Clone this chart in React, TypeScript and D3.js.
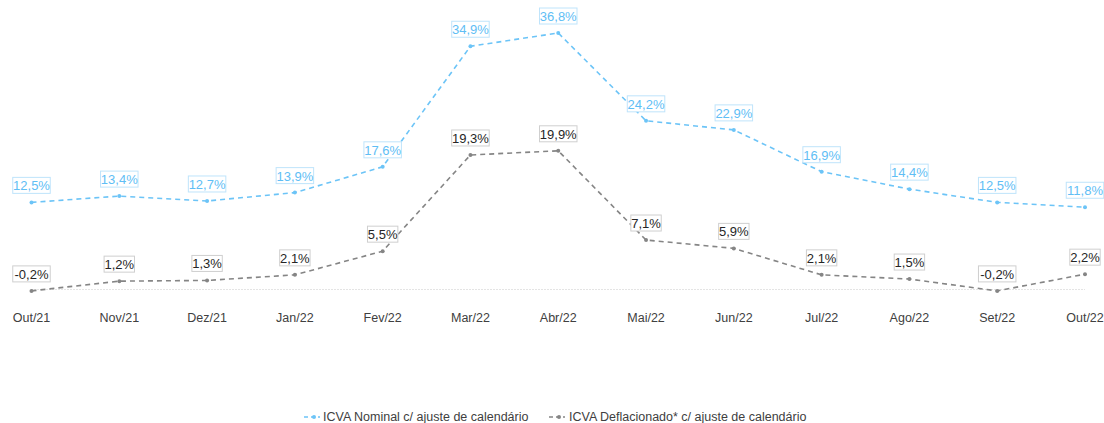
import React from "react";
import * as d3 from "d3";

const categories = ["Out/21", "Nov/21", "Dez/21", "Jan/22", "Fev/22", "Mar/22", "Abr/22", "Mai/22", "Jun/22", "Jul/22", "Ago/22", "Set/22", "Out/22"];
const nominal = [12.5, 13.4, 12.7, 13.9, 17.6, 34.9, 36.8, 24.2, 22.9, 16.9, 14.4, 12.5, 11.8];
const deflated = [-0.2, 1.2, 1.3, 2.1, 5.5, 19.3, 19.9, 7.1, 5.9, 2.1, 1.5, -0.2, 2.2];
const seriesNames = ["ICVA Nominal c/ ajuste de calendário", "ICVA Deflacionado* c/ ajuste de calendário"];

const W = 1104;
const H = 423;
const BLUE = "#6cc4f7";
const BLUE_TEXT = "#5fbef5";
const BLUE_BORDER = "#bfe4fb";
const GRAY = "#858585";
const FONT = "'Liberation Sans', Arial, sans-serif";

const fmt = (v: number) => v.toFixed(1).replace(".", ",") + "%";

export default function App() {
  const x = d3.scalePoint<string>().domain(categories).range([31.5, 1085]);
  const y = d3.scaleLinear().domain([0, 40]).range([289.5, 10.7]);
  const line = d3
    .line<number>()
    .x((_, i) => x(categories[i]) as number)
    .y((d) => y(d));

  const series = [
    { name: seriesNames[0], values: nominal, color: BLUE, text: BLUE_TEXT, border: BLUE_BORDER },
    { name: seriesNames[1], values: deflated, color: GRAY, text: "#262626", border: "#cfcfcf" },
  ];

  const labelW = (s: string) => s.length * 7.1 + 2;

  return (
    <svg width={W} height={H} style={{ position: "absolute", left: 0, top: 0, fontFamily: FONT }}>
      <rect width={W} height={H} fill="#ffffff" />
      <line x1={x(categories[0])} x2={x(categories[categories.length - 1])} y1={y(0)} y2={y(0)} stroke="#c8c8c8" strokeWidth={1} strokeDasharray="1,2" />
      {series.map((s, si) => (
        <g key={si}>
          <path d={line(s.values) || ""} fill="none" stroke={s.color} strokeWidth={1.6} strokeDasharray="5,4" />
          {s.values.map((v, i) => (
            <circle key={i} cx={x(categories[i])} cy={y(v)} r={2} fill={s.color} />
          ))}
          {s.values.map((v, i) => {
            const t = fmt(v);
            const w = labelW(t);
            const cx = x(categories[i]) as number;
            const cy = y(v) - 17;
            return (
              <g key={"l" + i}>
                <rect x={cx - w / 2} y={cy - 8} width={w} height={16} fill="#ffffff" stroke={s.border} strokeWidth={1} />
                <text x={cx} y={cy + 0.5} textAnchor="middle" dominantBaseline="central" fontSize={13} fill={s.text}>
                  {t}
                </text>
              </g>
            );
          })}
        </g>
      ))}
      {categories.map((c) => (
        <text key={c} x={x(c)} y={318} textAnchor="middle" dominantBaseline="central" fontSize={12.5} fill="#404040">
          {c}
        </text>
      ))}
      <g transform="translate(304,417)">
        <line x1={0} x2={16} y1={0} y2={0} stroke={BLUE} strokeWidth={1.6} strokeDasharray="4,3" />
        <circle cx={10} cy={0} r={2} fill={BLUE} />
        <text x={19} y={0} dominantBaseline="central" fontSize={12.5} fill="#404040">{seriesNames[0]}</text>
      </g>
      <g transform="translate(549,417)">
        <line x1={0} x2={16} y1={0} y2={0} stroke={GRAY} strokeWidth={1.6} strokeDasharray="4,3" />
        <circle cx={10} cy={0} r={2} fill={GRAY} />
        <text x={20} y={0} dominantBaseline="central" fontSize={12.5} fill="#404040">{seriesNames[1]}</text>
      </g>
    </svg>
  );
}
